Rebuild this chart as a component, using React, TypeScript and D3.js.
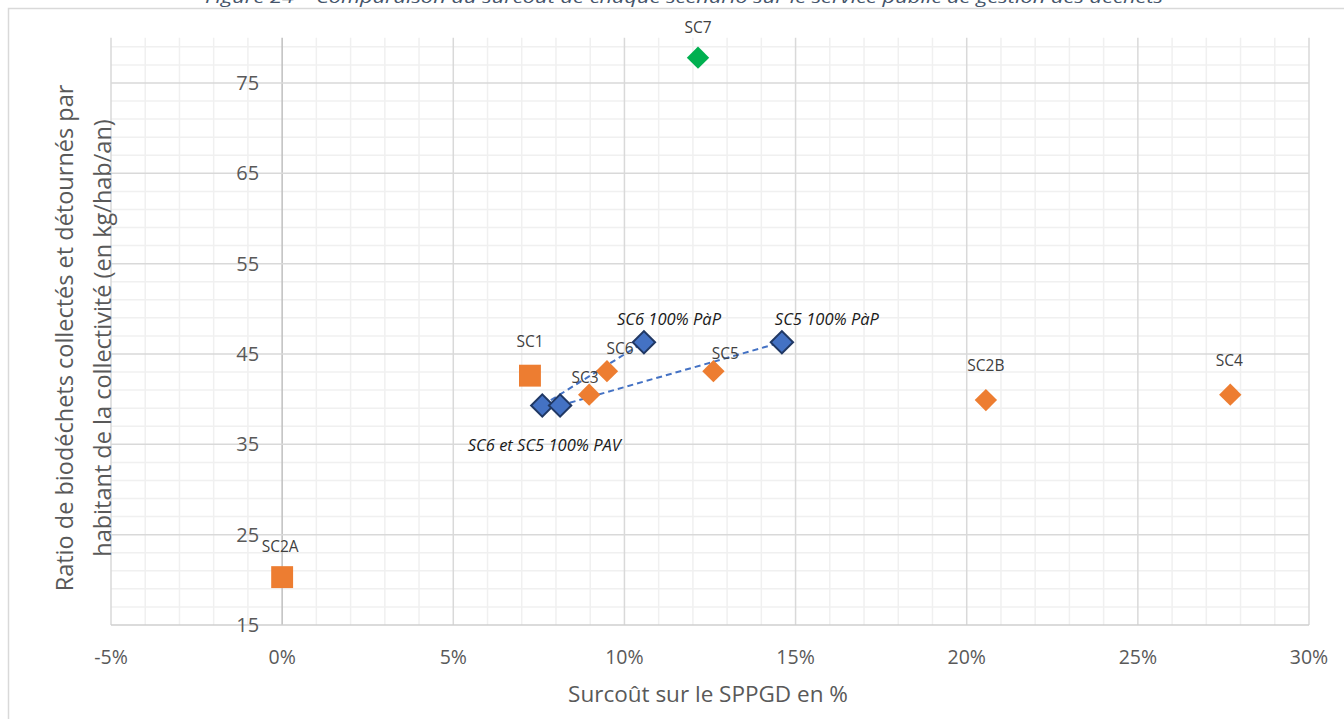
import { useRef, useEffect } from "react";
import * as d3 from "d3";

// x = surcoût (fraction), y = kg/hab/an
const orangeNames = ["SC3", "SC6", "SC5", "SC2B", "SC4"];
const orangeX = [0.0897, 0.0949, 0.126, 0.2056, 0.277];
const orangeY = [40.5, 43.1, 43.1, 39.9, 40.5];

const squareNames = ["SC2A", "SC1"];
const squareX = [0.0, 0.0724];
const squareY = [20.3, 42.6];

const greenNames = ["SC7"];
const greenX = [0.1215];
const greenY = [77.8];

const pavNames = ["SC6 PAV", "SC5 PAV"];
const pavX = [0.076, 0.0812];
const pavY = [39.3, 39.3];
const papNames = ["SC6 100% PàP", "SC5 100% PàP"];
const papX = [0.1057, 0.146];
const papY = [46.3, 46.3];

const xTicks = [-0.05, 0, 0.05, 0.1, 0.15, 0.2, 0.25, 0.3];
const yTicks = [15, 25, 35, 45, 55, 65, 75];

const TITLE = "Figure 24 – Comparaison du surcoût de chaque scénario sur le service public de gestion des déchets";
const X_TITLE = "Surcoût sur le SPPGD en %";
const Y_TITLE = ["Ratio de biodéchets collectés et détournés par", "habitant de la collectivité (en kg/hab/an)"];

// label placement relative to the marker
const labelOffset: Record<string, [number, number]> = {
  SC7: [0, -30], SC1: [0, -34], SC2A: [-2, -31], SC3: [-4, -17], SC6: [13, -23],
  SC5: [12, -18], SC2B: [0, -34], SC4: [-1, -34],
};

const FONT = "'Open Sans', sans-serif";

export default function App() {
  const ref = useRef<SVGSVGElement>(null);
  useEffect(() => {
    if (!ref.current) return;
    const svg = d3.select(ref.current);
    svg.selectAll("*").remove();
    const W = 1344, H = 719;
    svg.attr("width", W).attr("height", H).style("font-family", FONT);

    svg.append("rect").attr("x", 8.5).attr("y", 8.5).attr("width", 1500).attr("height", 900)
      .attr("fill", "#fff").attr("stroke", "#d9d9d9").attr("stroke-width", 1.5);

    svg.append("text").attr("x", 684).attr("y", 3).attr("text-anchor", "middle")
      .attr("font-style", "italic").attr("font-size", 17).attr("fill", "#44546a")
      .attr("textLength", 958).attr("lengthAdjust", "spacingAndGlyphs").text(TITLE);

    const x = d3.scaleLinear().domain([-0.05, 0.3]).range([111, 1309]);
    const y = d3.scaleLinear().domain([15, 80]).range([625, 37.8]);
    const g = svg.append("g");

    // minor grid
    const minorX = d3.range(-5, 31, 1).filter(v => v % 5 !== 0).map(v => v / 100);
    const minorY = d3.range(17, 80, 2).filter(v => (v - 15) % 10 !== 0);
    g.selectAll(".mx").data(minorX).join("line")
      .attr("x1", d => x(d)).attr("x2", d => x(d)).attr("y1", y(80)).attr("y2", y(15))
      .attr("stroke", "#f0f0f0").attr("stroke-width", 1.5);
    g.selectAll(".my").data(minorY).join("line")
      .attr("x1", x(-0.05)).attr("x2", x(0.3)).attr("y1", d => y(d)).attr("y2", d => y(d))
      .attr("stroke", "#f0f0f0").attr("stroke-width", 1.5);
    // major grid
    g.selectAll(".Mx").data(xTicks).join("line")
      .attr("x1", d => x(d)).attr("x2", d => x(d)).attr("y1", y(80)).attr("y2", y(15))
      .attr("stroke", d => d === 0 ? "#bfbfbf" : "#d9d9d9").attr("stroke-width", 1.5);
    g.selectAll(".My").data(yTicks).join("line")
      .attr("x1", x(-0.05)).attr("x2", x(0.3)).attr("y1", d => y(d)).attr("y2", d => y(d))
      .attr("stroke", d => d === 15 ? "#cfcfcf" : "#d9d9d9").attr("stroke-width", 1.5);

    // tick labels
    g.selectAll(".xl").data(xTicks).join("text")
      .attr("x", d => x(d)).attr("y", 657).attr("dy", "0.35em").attr("text-anchor", "middle")
      .attr("font-size", 19.5).attr("fill", "#595959").text(d => `${Math.round(d * 100)}%`);
    g.selectAll(".yl").data(yTicks).join("text")
      .attr("x", x(0) - 23).attr("y", d => y(d)).attr("dy", "0.35em").attr("text-anchor", "end")
      .attr("font-size", 20).attr("fill", "#595959").text(d => d);

    // axis titles
    svg.append("text").attr("x", 708).attr("y", 694).attr("dy", "0.35em").attr("text-anchor", "middle")
      .attr("font-size", 22.5).attr("fill", "#595959").text(X_TITLE);
    Y_TITLE.forEach((t, i) => {
      svg.append("text").attr("transform", `translate(${65 + i * 38},338) rotate(-90)`)
        .attr("dy", "0.35em").attr("text-anchor", "middle")
        .attr("font-size", 23.5).attr("fill", "#595959").text(t);
    });

    // dashed links PAV -> PàP
    const links = pavNames.map((_, i) => ({ x1: pavX[i], y1: pavY[i], x2: papX[i], y2: papY[i] }));
    g.selectAll(".lk").data(links).join("line")
      .attr("x1", d => x(d.x1)).attr("y1", d => y(d.y1)).attr("x2", d => x(d.x2)).attr("y2", d => y(d.y2))
      .attr("stroke", "#4472c4").attr("stroke-width", 2).attr("stroke-dasharray", "6,4");

    const sq = d3.symbol().type(d3.symbolSquare).size(480)();
    const dia = d3.symbol().type(d3.symbolSquare).size(250)();

    const pts = (names: string[], xs: number[], ys: number[]) => names.map((n, i) => ({ n, x: xs[i], y: ys[i] }));
    const orange = pts(orangeNames, orangeX, orangeY);
    const squares = pts(squareNames, squareX, squareY);
    const green = pts(greenNames, greenX, greenY);
    const blue = [...pts(pavNames, pavX, pavY), ...pts(papNames, papX, papY)];

    g.selectAll(".sq").data(squares).join("path").attr("d", sq)
      .attr("transform", d => `translate(${x(d.x)},${y(d.y)})`).attr("fill", "#ed7d31");
    g.selectAll(".or").data(orange).join("path").attr("d", dia)
      .attr("transform", d => `translate(${x(d.x)},${y(d.y)}) rotate(45)`).attr("fill", "#ed7d31");
    g.selectAll(".gr").data(green).join("path").attr("d", dia)
      .attr("transform", d => `translate(${x(d.x)},${y(d.y)}) rotate(45)`).attr("fill", "#00b050");
    g.selectAll(".bl").data(blue).join("path").attr("d", dia)
      .attr("transform", d => `translate(${x(d.x)},${y(d.y)}) rotate(45)`).attr("fill", "#4472c4")
      .attr("stroke", "#203864").attr("stroke-width", 2);

    const named = [...orange, ...squares, ...green];
    g.selectAll(".pl").data(named).join("text")
      .attr("x", d => x(d.x) + labelOffset[d.n][0]).attr("y", d => y(d.y) + labelOffset[d.n][1])
      .attr("dy", "0.35em").attr("text-anchor", "middle").attr("font-size", 15.5).attr("fill", "#404040")
      .text(d => d.n);

    const italic = [
      { t: papNames[0], x: papX[0], y: papY[0], dx: 25, dy: -23 },
      { t: papNames[1], x: papX[1], y: papY[1], dx: 45, dy: -23 },
      { t: "SC6 et SC5 100% PAV", x: pavX[0], y: pavY[0], dx: 2, dy: 40 },
    ];
    g.selectAll(".il").data(italic).join("text")
      .attr("x", d => x(d.x) + d.dx).attr("y", d => y(d.y) + d.dy).attr("dy", "0.35em")
      .attr("text-anchor", "middle").attr("font-size", 16.5).attr("font-style", "italic")
      .attr("fill", "#1a1a1a").text(d => d.t);
  }, []);

  return (
    <div style={{ position: "absolute", left: 0, top: 0, background: "#fff" }}>
      <svg ref={ref} style={{ display: "block" }} />
    </div>
  );
}
